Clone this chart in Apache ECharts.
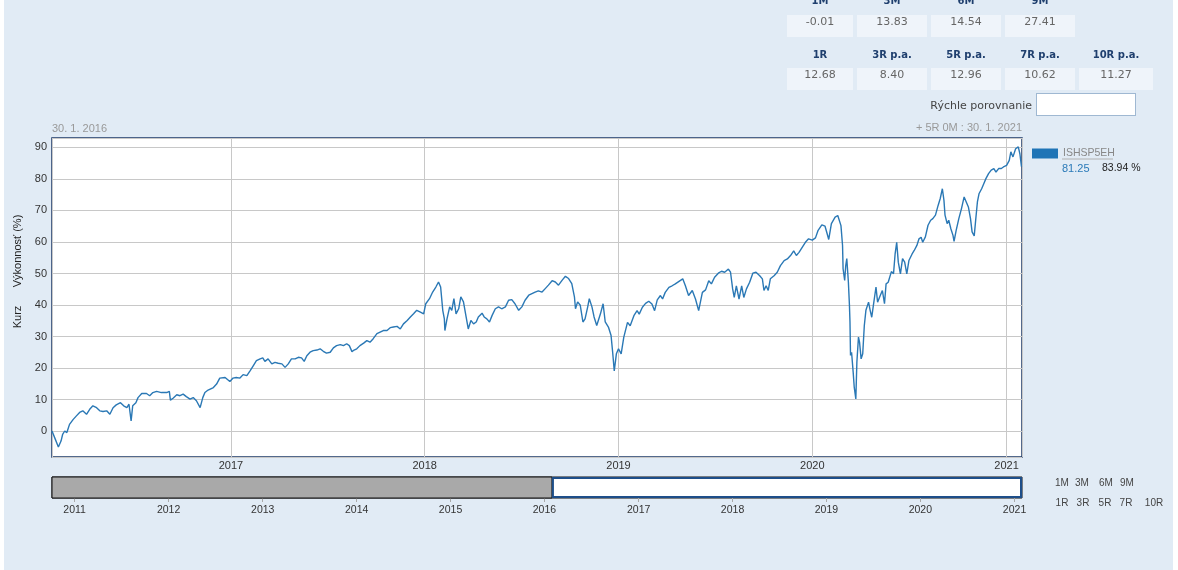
<!DOCTYPE html>
<html><head><meta charset="utf-8">
<script src="https://cdn.jsdelivr.net/npm/echarts@6/dist/echarts.min.js"></script>
<style>
html,body{margin:0;padding:0;background:#fff;width:1178px;height:570px;overflow:hidden;}
#bg{position:absolute;left:4px;top:0;width:1169px;height:570px;background:#e1ebf5;}
#chart{position:absolute;left:0;top:0;width:1178px;height:570px;}
.h{position:absolute;font:bold 10px "DejaVu Sans",Verdana,sans-serif;color:#1f3f6e;text-align:center;height:12px;line-height:12px;}
.c{position:absolute;height:22px;line-height:22px;background:#eff4fa;font:11px "DejaVu Sans",Verdana,sans-serif;color:#666;text-align:center;}
#cmpLbl{position:absolute;left:900px;width:132px;top:99px;height:16px;line-height:16px;text-align:right;font:11px "DejaVu Sans",Verdana,sans-serif;color:#444;}
#cmp{position:absolute;left:1036px;top:93px;width:98px;height:21px;background:#fff;border:1px solid #9fb8d2;margin:0;padding:0;}
</style></head>
<body>
<div id="bg"></div>
<div id="chart"></div>
<div id="tbl"></div>
<div id="cmpLbl">Rýchle porovnanie</div>
<input id="cmp" type="text">
<script>
// ---------- data ----------
const periodLabels1 = ['1M','3M','6M','9M'];
const periodValues1 = ['-0.01','13.83','14.54','27.41'];
const periodLabels2 = ['1R','3R p.a.','5R p.a.','7R p.a.','10R p.a.'];
const periodValues2 = ['12.68','8.40','12.96','10.62','11.27'];
const rangeButtons1 = ['1M','3M','6M','9M'];
const rangeButtons2 = ['1R','3R','5R','7R','10R'];
const seriesName = 'ISHSP5EH';
const lastPrice = '81.25';
const lastPerf = '83.94 %';
const startLabel = '30. 1. 2016';
const endLabel = '+ 5R 0M : 30. 1. 2021';
const viewRange = ['2016-01-30','2021-01-30'];
const navRange = ['2010-10-05','2021-01-30'];
const navSegments = [['2010-10-05','2016-01-30'],['2016-01-30','2021-01-30']];

const dates = [
'2016-01-30','2016-02-04','2016-02-11','2016-02-16','2016-02-19','2016-02-23','2016-02-27','2016-03-03','2016-03-10','2016-03-16',
'2016-03-22','2016-03-28','2016-04-04','2016-04-10','2016-04-16','2016-04-23','2016-04-29','2016-05-05','2016-05-12','2016-05-18',
'2016-05-24','2016-05-30','2016-06-07','2016-06-13','2016-06-19','2016-06-23','2016-06-27','2016-06-30','2016-07-06','2016-07-10',
'2016-07-17','2016-07-26','2016-08-01','2016-08-07','2016-08-14','2016-08-23','2016-09-02','2016-09-07','2016-09-09','2016-09-14',
'2016-09-21','2016-09-27','2016-10-03','2016-10-09','2016-10-16','2016-10-22','2016-10-28','2016-11-04','2016-11-09','2016-11-13',
'2016-11-19','2016-11-29','2016-12-05','2016-12-11','2016-12-21','2016-12-30',
'2017-01-05','2017-01-11','2017-01-18','2017-01-24','2017-01-31','2017-02-06','2017-02-12','2017-02-18','2017-02-25','2017-03-02',
'2017-03-06','2017-03-12','2017-03-19','2017-03-25','2017-03-31','2017-04-07','2017-04-13','2017-04-19','2017-04-25','2017-05-02',
'2017-05-08','2017-05-14','2017-05-19','2017-05-24','2017-05-30','2017-06-05','2017-06-12','2017-06-18','2017-06-24','2017-06-30',
'2017-07-07','2017-07-13','2017-07-19','2017-07-26','2017-08-01','2017-08-07','2017-08-12','2017-08-17','2017-08-21','2017-08-26',
'2017-09-01','2017-09-08','2017-09-14','2017-09-20','2017-09-26','2017-10-03','2017-10-09','2017-10-15','2017-10-22','2017-10-28',
'2017-11-03','2017-11-10','2017-11-16','2017-11-22','2017-11-29','2017-12-05','2017-12-11','2017-12-17','2017-12-23','2017-12-30',
'2018-01-03','2018-01-10','2018-01-16','2018-01-22','2018-01-27','2018-01-31','2018-02-04','2018-02-07','2018-02-08','2018-02-12',
'2018-02-17','2018-02-21','2018-02-25','2018-03-01','2018-03-06','2018-03-10','2018-03-15','2018-03-20','2018-03-24','2018-03-29',
'2018-04-03','2018-04-08','2018-04-12','2018-04-19','2018-04-23','2018-04-28','2018-05-03','2018-05-08','2018-05-14','2018-05-20',
'2018-05-26','2018-06-02','2018-06-08','2018-06-14','2018-06-20','2018-06-27','2018-07-03','2018-07-09','2018-07-16','2018-07-22',
'2018-07-28','2018-08-03','2018-08-10','2018-08-16','2018-08-22','2018-08-29','2018-09-04','2018-09-10','2018-09-17','2018-09-23',
'2018-09-29','2018-10-05','2018-10-10','2018-10-12','2018-10-16','2018-10-21','2018-10-26','2018-10-30','2018-11-04','2018-11-07',
'2018-11-12','2018-11-16','2018-11-21','2018-11-28','2018-12-03','2018-12-07','2018-12-13','2018-12-18','2018-12-21','2018-12-24',
'2018-12-28',
'2019-01-01','2019-01-06','2019-01-11','2019-01-18','2019-01-23','2019-01-30','2019-02-05','2019-02-09','2019-02-15','2019-02-21',
'2019-02-27','2019-03-05','2019-03-10','2019-03-15','2019-03-21','2019-03-25','2019-03-30','2019-04-06','2019-04-12','2019-04-18',
'2019-04-25','2019-05-02','2019-05-07','2019-05-13','2019-05-20','2019-05-26','2019-06-01','2019-06-08','2019-06-14','2019-06-20',
'2019-06-25','2019-07-01','2019-07-08','2019-07-14','2019-07-20','2019-07-27','2019-07-31','2019-08-04','2019-08-07','2019-08-11',
'2019-08-16','2019-08-21','2019-08-25','2019-08-30','2019-09-05','2019-09-11','2019-09-17','2019-09-24','2019-09-29','2019-10-02',
'2019-10-06','2019-10-10','2019-10-14','2019-10-21','2019-10-27','2019-11-02','2019-11-09','2019-11-15','2019-11-21','2019-11-27',
'2019-12-02','2019-12-07','2019-12-13','2019-12-19','2019-12-25',
'2020-01-01','2020-01-07','2020-01-12','2020-01-19','2020-01-25','2020-01-29','2020-02-01','2020-02-06','2020-02-13','2020-02-18',
'2020-02-21','2020-02-24','2020-02-27','2020-02-28','2020-03-02','2020-03-04','2020-03-06','2020-03-09','2020-03-11','2020-03-12',
'2020-03-13','2020-03-15','2020-03-18','2020-03-20','2020-03-23','2020-03-25','2020-03-28','2020-03-30','2020-04-02','2020-04-05',
'2020-04-08','2020-04-11','2020-04-16','2020-04-19','2020-04-22','2020-04-25','2020-04-30','2020-05-03','2020-05-08','2020-05-12',
'2020-05-16','2020-05-19','2020-05-23','2020-05-29','2020-06-02','2020-06-05','2020-06-08','2020-06-11','2020-06-15','2020-06-19',
'2020-06-23','2020-06-27','2020-07-01','2020-07-07','2020-07-11','2020-07-16','2020-07-20','2020-07-24','2020-07-27','2020-08-01',
'2020-08-06','2020-08-11','2020-08-15','2020-08-20','2020-08-25','2020-08-29','2020-09-02','2020-09-05','2020-09-07','2020-09-11',
'2020-09-14','2020-09-18','2020-09-22','2020-09-24','2020-09-28','2020-10-03','2020-10-08','2020-10-13','2020-10-17','2020-10-21',
'2020-10-25','2020-10-28','2020-11-01','2020-11-04','2020-11-07','2020-11-10','2020-11-15','2020-11-19','2020-11-23','2020-11-28',
'2020-12-03','2020-12-08','2020-12-12','2020-12-17','2020-12-22','2020-12-26',
'2021-01-01','2021-01-06','2021-01-09','2021-01-13','2021-01-18','2021-01-23','2021-01-26','2021-01-29'
];
const perf = [
0.0,-2.1,-5.1,-3.2,-1.1,0.0,-0.5,2.1,3.7,4.8,
5.9,6.4,5.3,6.9,8.0,7.4,6.4,6.2,6.4,5.3,
7.4,8.3,9.0,8.0,7.4,8.5,3.2,8.0,9.0,10.6,
11.9,11.9,11.2,12.2,12.6,12.2,12.2,12.6,9.8,10.4,
11.5,11.2,11.7,10.9,10.1,10.6,9.6,7.4,10.6,12.2,
13.0,13.8,14.9,16.8,17.0,15.7,
16.8,17.0,16.8,17.9,17.6,19.1,20.7,22.3,22.9,23.2,
22.1,22.9,21.3,21.8,21.5,21.3,20.2,21.3,22.9,22.9,
23.4,23.2,22.1,23.9,25.0,25.5,25.7,26.1,25.3,24.7,
25.0,26.4,27.1,27.4,27.1,27.7,27.1,25.2,25.7,26.1,
27.1,27.9,28.7,28.2,29.3,30.9,31.4,31.9,31.9,32.8,
33.0,33.2,32.4,34.0,35.1,36.2,37.2,38.3,37.8,37.2,
40.4,42.0,44.1,45.7,47.3,45.7,38.3,35.6,31.9,35.6,
39.4,38.3,42.0,37.2,38.8,42.6,41.0,36.2,32.4,35.1,
34.0,34.6,36.2,37.4,36.2,35.6,34.6,36.7,38.8,39.4,
38.8,39.4,41.5,41.7,40.4,38.3,39.4,41.5,43.1,43.6,
44.1,44.5,44.1,45.2,46.3,47.7,47.3,46.3,47.9,49.1,
48.4,46.8,42.6,38.8,41.0,39.9,34.6,35.6,39.4,42.0,
39.4,36.2,33.5,37.2,40.4,34.6,33.0,30.3,25.0,19.1,
24.5,
26.1,24.5,29.8,34.5,33.4,36.6,38.2,37.1,39.3,40.5,
41.2,40.3,38.2,41.6,43.0,41.9,44.0,45.6,46.1,46.7,
47.5,48.3,46.1,43.0,44.6,41.9,38.2,44.0,44.8,47.7,
46.7,48.8,50.1,50.7,50.4,51.4,50.4,45.1,42.4,46.1,
41.9,46.1,42.4,45.1,47.2,50.1,50.4,49.3,48.3,44.6,
46.1,44.6,48.3,49.3,50.4,52.5,54.1,54.6,55.7,57.2,
55.7,56.7,58.3,59.9,61.0,
60.6,61.3,63.7,65.4,65.0,62.6,60.8,65.8,67.9,68.4,
67.9,65.2,58.9,51.5,47.8,52.5,54.7,47.2,39.8,34.6,
24.0,25.0,18.7,13.9,10.2,21.9,29.8,28.2,22.9,24.5,
33.5,38.3,40.9,38.3,36.1,39.8,45.7,40.9,43.0,44.6,
40.4,46.7,47.2,50.6,49.9,56.2,59.9,53.6,49.9,54.7,
53.6,49.9,54.1,56.2,57.3,58.9,61.0,61.5,59.9,61.6,
65.3,66.9,67.4,68.5,71.6,73.8,76.9,73.2,68.5,65.8,
66.9,64.2,62.1,60.2,63.7,67.4,70.6,74.3,72.7,71.1,
67.4,63.2,61.9,67.4,72.7,75.3,76.9,78.5,80.1,81.7,
82.8,83.3,82.2,83.3,83.3,83.8,
84.3,85.9,88.6,87.0,89.6,90.2,88.0,83.9
];

// ---------- HTML table ----------
const cellLeft = [787, 857, 931, 1005, 1079];
const cellWidth = [66, 70, 70, 70, 74];
const tbl = document.getElementById('tbl');
function addRow(labels, values, headTop, cellTop) {
  labels.forEach((t, i) => {
    const h = document.createElement('div');
    h.className = 'h';
    h.style.left = cellLeft[i] + 'px'; h.style.width = cellWidth[i] + 'px'; h.style.top = headTop + 'px';
    h.textContent = t; tbl.appendChild(h);
    const c = document.createElement('div');
    c.className = 'c';
    c.style.left = cellLeft[i] + 'px'; c.style.width = cellWidth[i] + 'px'; c.style.top = cellTop + 'px';
    c.textContent = values[i]; tbl.appendChild(c);
  });
}
addRow(periodLabels1, periodValues1, -5, 15);
addRow(periodLabels2, periodValues2, 49, 68);

// ---------- chart ----------
const chart = echarts.init(document.getElementById('chart'), null, {renderer: 'canvas'});
const DAY = 86400000;
const mainData = dates.map((d, i) => [d, perf[i]]);
const yearFmt = v => { const d = new Date(v); return (d.getMonth() === 0 && d.getDate() === 1) ? String(d.getFullYear()) : ''; };
const FONT = '"Liberation Sans", Arial, sans-serif';

const btnX1 = [1062, 1082, 1106, 1127];
const btnX2 = [1062, 1083, 1105, 1126, 1154];
const graphics = [
  {type: 'text', left: 52, top: 123, style: {text: startLabel, fill: '#999', font: '11px ' + FONT}},
  {type: 'text', right: 1178 - 1022, top: 122, style: {text: endLabel, fill: '#999', font: '11px ' + FONT}},
  {type: 'text', x: 18, y: 251, rotation: Math.PI / 2, style: {text: 'Výkonnosť (%)', fill: '#222', font: '11px ' + FONT, align: 'center', verticalAlign: 'middle'}},
  {type: 'text', x: 18, y: 317, rotation: Math.PI / 2, style: {text: 'Kurz', fill: '#222', font: '11px ' + FONT, align: 'center', verticalAlign: 'middle'}},
  {type: 'line', shape: {x1: 1062, y1: 159, x2: 1113, y2: 159}, style: {stroke: '#b0b0b0', lineWidth: 1}},
  {type: 'text', x: 1062, y: 168.5, style: {text: lastPrice, fill: '#2a7ab8', font: '11px ' + FONT, verticalAlign: 'middle'}},
  {type: 'text', x: 1102, y: 168.5, style: {text: lastPerf, fill: '#222', font: '10.5px ' + FONT, verticalAlign: 'middle'}}
];
rangeButtons1.forEach((t, i) => graphics.push({type: 'text', x: btnX1[i], y: 483.5, style: {text: t, fill: '#444', font: '10px ' + FONT, align: 'center', verticalAlign: 'middle'}}));
rangeButtons2.forEach((t, i) => graphics.push({type: 'text', x: btnX2[i], y: 503.5, style: {text: t, fill: '#444', font: '10px ' + FONT, align: 'center', verticalAlign: 'middle'}}));

const option = {
  animation: false,
  textStyle: {fontFamily: FONT},
  grid: [
    {left: 52, top: 138, width: 970, height: 319, show: true, borderColor: '#1b3967', borderWidth: 1.5, backgroundColor: '#fff'},
    {left: 52, top: 477, width: 970, height: 21, show: true, borderColor: '#111', borderWidth: 1, backgroundColor: 'transparent'}
  ],
  legend: {
    data: [seriesName], left: 1032, top: 148, orient: 'vertical', icon: 'rect', itemWidth: 26, itemHeight: 10,
    padding: 0, selectedMode: false, textStyle: {color: '#888', fontSize: 10.5, fontFamily: FONT}
  },
  xAxis: [
    {type: 'time', gridIndex: 0, min: viewRange[0], max: viewRange[1], minInterval: 365 * DAY, splitNumber: 5,
     axisLine: {show: false}, axisTick: {show: false},
     splitLine: {show: true, lineStyle: {color: '#c8c8c8', width: 1}},
     axisLabel: {formatter: yearFmt, color: '#333', fontSize: 11, margin: 3, interval: 0, showMinLabel: false, showMaxLabel: false}},
    {type: 'time', gridIndex: 1, min: navRange[0], max: navRange[1], minInterval: 365 * DAY, splitNumber: 10,
     axisLine: {show: false}, axisTick: {show: true, length: 4, interval: 0, lineStyle: {color: '#aaa'}}, splitLine: {show: false},
     axisLabel: {formatter: yearFmt, color: '#333', fontSize: 10.5, margin: 7, interval: 0, showMinLabel: false, showMaxLabel: false}}
  ],
  yAxis: [
    {type: 'value', gridIndex: 0, min: -8.25, max: 93, splitNumber: 10,
     axisLine: {show: false}, axisTick: {show: false},
     splitLine: {show: true, lineStyle: {color: '#c8c8c8', width: 1}},
     axisLabel: {formatter: v => (Math.abs(v % 10) < 1e-6 ? String(Math.round(v)) : ''), color: '#333', fontSize: 11, margin: 5}},
    {type: 'value', gridIndex: 1, min: 0, max: 1, show: false}
  ],
  graphic: graphics,
  series: [
    {type: 'line', name: seriesName, xAxisIndex: 0, yAxisIndex: 0, data: mainData, showSymbol: false, symbol: 'none',
     lineStyle: {color: '#2a78b5', width: 1.4}, itemStyle: {color: '#1f74b6'}, clip: true, silent: true},
    {type: 'custom', xAxisIndex: 1, yAxisIndex: 1, silent: true, data: navSegments, encode: {x: [0, 1]},
     renderItem: (params, api) => {
       const a = api.coord([api.value(0), 1]);
       const b = api.coord([api.value(1), 0]);
       if (params.dataIndex === 0) {
         return {type: 'rect', shape: {x: a[0], y: a[1], width: b[0] - a[0], height: b[1] - a[1]}, style: {fill: '#a9a9a9', stroke: '#111', lineWidth: 1}};
       }
       return {type: 'rect', shape: {x: a[0] + 1, y: a[1] + 1, width: b[0] - a[0] - 2, height: b[1] - a[1] - 2}, style: {fill: '#fff', stroke: '#1d4e89', lineWidth: 2}};
     }}
  ]
};
chart.setOption(option);
</script>
</body></html>
